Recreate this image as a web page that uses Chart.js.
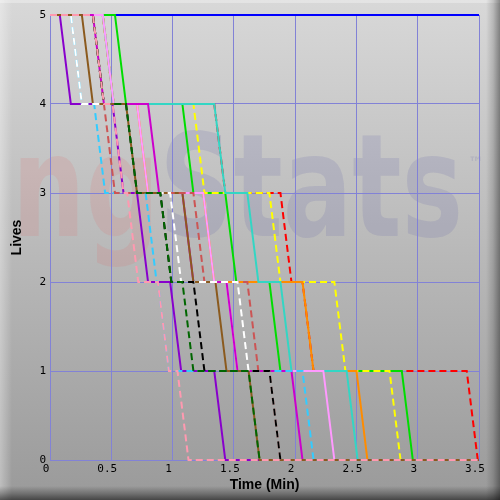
<!DOCTYPE html>
<html>
<head>
<meta charset="utf-8">
<script src="https://cdn.jsdelivr.net/npm/chart.js@4/dist/chart.umd.min.js"></script>
<style>
html,body{margin:0;padding:0;background:#a8a8a8;}
#wrap{width:500px;height:500px;}
</style>
</head>
<body>
<div id="wrap"><canvas id="c" width="500" height="500"></canvas></div>
<script>
// ---- Data ----
const xTickLabels = ['0', '0.5', '1', '1.5', '2', '2.5', '3', '3.5'];
const yTickLabels = ['0', '1', '2', '3', '4', '5'];
const startLives = 5;
const matchEnd = 3.5;          // minutes
const dropLength = 0.09;       // minutes taken by each drawn drop

// Time (min) at which each life starts to drop: 5->4, 4->3, 3->2, 2->1, 1->0
const blueDrops      = [];
const purpleDrops    = [0.08, 0.51, 0.71, 0.98, 1.34];
const whiteDrops     = [0.17, 0.62, 0.98, 1.53, 1.79];
const brownDrops     = [0.26, 0.62, 1.08, 1.35, 1.62];
const pinkDrops      = [0.35, 0.51, 0.63, 0.88, 1.04];
const indianredDrops = [0.35, 0.44, 1.17, 1.61, 1.79];
const turquoiseDrops = [0.43, 1.34, 1.61, 1.88, 2.42];
const greenDrops     = [0.53, 1.08, 1.43, 1.79, 2.87];
const lightblueDrops = [0.17, 0.36, 0.78, 0.88, 2.06];
const darkgreenDrops = [0.35, 0.62, 0.90, 1.08, 1.62];
const magentaDrops   = [0.35, 0.80, 1.08, 1.44, 1.97];
const violetDrops    = [0.43, 0.71, 1.25, 1.44, 2.23];
const yellowDrops    = [0.43, 1.17, 1.79, 2.32, 2.77];
const blackDrops     = [0.35, 0.62, 0.90, 1.17, 1.79];
const orangeDrops    = [0.43, 0.71, 1.25, 2.06, 2.50];
const redDrops       = [0.43, 1.34, 1.88, 2.06, 3.40];

function lifeSteps(drops) {
  const pts = [{x: 0, y: startLives}];
  let lives = startLives;
  for (const t of drops) {
    pts.push({x: t, y: lives});
    lives -= 1;
    pts.push({x: t + dropLength, y: lives});
  }
  pts.push({x: matchEnd, y: lives});
  return pts;
}

const DASH = [7, 4];
// first entry is drawn on top
const seriesDefs = [
  {drops: pinkDrops,      color: '#ff99b0', dash: DASH},
  {drops: darkgreenDrops, color: '#006600', dash: DASH},
  {drops: blackDrops,     color: '#000000', dash: DASH},
  {drops: whiteDrops,     color: '#ffffff', dash: DASH},
  {drops: indianredDrops, color: '#cc5555', dash: DASH},
  {drops: lightblueDrops, color: '#33ccff', dash: DASH},
  {drops: brownDrops,     color: '#8b5a1e', dash: []},
  {drops: magentaDrops,   color: '#cc00cc', dash: []},
  {drops: violetDrops,    color: '#ff99ff', dash: []},
  {drops: turquoiseDrops, color: '#33d6c4', dash: []},
  {drops: orangeDrops,    color: '#ff8c00', dash: []},
  {drops: yellowDrops,    color: '#ffff00', dash: DASH},
  {drops: greenDrops,     color: '#00dd00', dash: []},
  {drops: redDrops,       color: '#ff0000', dash: DASH},
  {drops: purpleDrops,    color: '#8800cc', dash: []},
  {drops: blueDrops,      color: '#0000ff', dash: []}
];

const datasets = seriesDefs.map(s => ({
  data: lifeSteps(s.drops),
  borderColor: s.color,
  borderWidth: 2,
  borderDash: s.dash,
  pointRadius: 0,
  tension: 0,
  fill: false,
  clip: 4
}));

const bgPlugin = {
  id: 'bg',
  beforeDraw(chart) {
    const ctx = chart.ctx;
    const W = chart.width, H = chart.height;
    ctx.save();
    const g = ctx.createLinearGradient(0, 0, 0, H);
    g.addColorStop(0, '#d8d8d8');
    g.addColorStop(1, '#9a9a9a');
    ctx.fillStyle = g;
    ctx.fillRect(0, 0, W, H);
    // bevel: light top/left, dark right/bottom
    const gl = ctx.createLinearGradient(0, 0, 12, 0);
    gl.addColorStop(0, 'rgba(255,255,255,0.35)');
    gl.addColorStop(1, 'rgba(255,255,255,0)');
    ctx.fillStyle = gl;
    ctx.fillRect(0, 0, 12, H);
    ctx.fillStyle = 'rgba(255,255,255,0.3)';
    ctx.fillRect(0, 0, W, 3);
    const gr = ctx.createLinearGradient(W - 14, 0, W, 0);
    gr.addColorStop(0, 'rgba(0,0,0,0)');
    gr.addColorStop(0.5, 'rgba(0,0,0,0.14)');
    gr.addColorStop(1, 'rgba(0,0,0,0.4)');
    ctx.fillStyle = gr;
    ctx.fillRect(W - 14, 0, 14, H);
    const gb = ctx.createLinearGradient(0, H - 14, 0, H);
    gb.addColorStop(0, 'rgba(0,0,0,0)');
    gb.addColorStop(0.5, 'rgba(0,0,0,0.25)');
    gb.addColorStop(1, 'rgba(0,0,0,0.55)');
    ctx.fillStyle = gb;
    ctx.fillRect(0, H - 14, W, 14);
    // watermark
    ctx.font = 'bold 143px "DejaVu Sans"';
    ctx.textBaseline = 'alphabetic';
    const wAll = ctx.measureText('ngStats').width;
    const wNg = ctx.measureText('ng').width;
    const sx = 451 / wAll;
    ctx.translate(12, 236);
    ctx.scale(sx, 1);
    ctx.fillStyle = 'rgba(230,100,100,0.15)';
    ctx.fillText('ng', 0, 0);
    ctx.fillStyle = 'rgba(95,95,170,0.16)';
    ctx.fillText('Stats', wNg, 0);
    ctx.setTransform(1, 0, 0, 1, 0, 0);
    ctx.font = 'bold 16px "DejaVu Sans"';
    ctx.fillStyle = 'rgba(95,95,170,0.16)';
    ctx.fillText('\u2122', 468, 168);
    ctx.restore();
  }
};

const gridColor = '#8282d6';
const tickFont = {family: '"DejaVu Sans Mono"', size: 11};
const titleFont = {family: '"Liberation Sans"', size: 14, weight: 'bold'};

new Chart(document.getElementById('c'), {
  type: 'line',
  data: {datasets},
  options: {
    responsive: false,
    animation: false,
    devicePixelRatio: 1,
    layout: {padding: {top: 15, right: 21, left: 0, bottom: 0}},
    plugins: {legend: {display: false}, tooltip: {enabled: false}},
    scales: {
      x: {
        type: 'linear',
        min: 0, max: matchEnd,
        afterFit: s => { s.height = 40; },
        ticks: {
          stepSize: 0.5, autoSkip: false, maxRotation: 0, padding: 3,
          labelOffset: -4, color: '#000', font: tickFont,
          callback: v => xTickLabels[Math.round(v / 0.5)]
        },
        grid: {color: gridColor, drawTicks: false, lineWidth: 1},
        border: {color: gridColor},
        title: {display: true, text: 'Time (Min)', color: '#000', font: titleFont, padding: {top: 0, bottom: 6}}
      },
      y: {
        min: 0, max: startLives,
        afterFit: s => { s.width = 50; },
        ticks: {
          stepSize: 1, autoSkip: false, padding: 4, color: '#000', font: tickFont,
          callback: v => yTickLabels[Math.round(v)]
        },
        grid: {color: gridColor, drawTicks: false, lineWidth: 1},
        border: {color: gridColor},
        title: {display: true, text: 'Lives', color: '#000', font: titleFont, padding: {top: 9, bottom: 0}}
      }
    }
  },
  plugins: [bgPlugin]
});
</script>
</body>
</html>
